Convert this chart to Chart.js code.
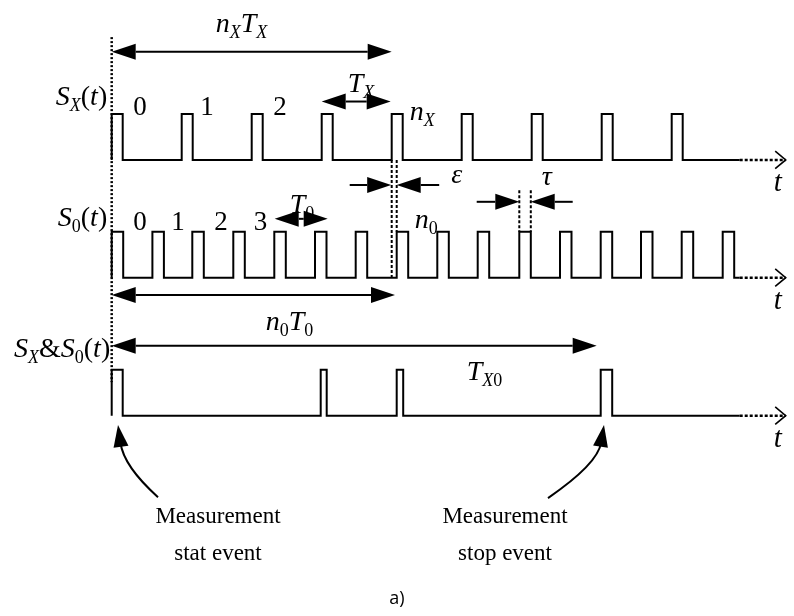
<!DOCTYPE html>
<html>
<head>
<meta charset="utf-8">
<script src="https://cdn.jsdelivr.net/npm/chart.js@4.4.1/dist/chart.umd.min.js"></script>
<style>
  html, body { margin: 0; padding: 0; background: #fff; }
  #wrap { width: 794px; height: 616px; }
</style>
</head>
<body>
<div id="wrap"><canvas id="timing" width="794" height="616"></canvas></div>
<script>
// pulse start times (time units)
const sxStarts = [0, 7, 14, 21, 28, 35, 42, 49, 56];
const sxWidths = [1.1, 1.1, 1.1, 1.1, 1.1, 1.1, 1.1, 1.1, 1.1];
const s0Starts = [0, 4.07, 8.06, 12.16, 16.26, 20.33, 24.4, 28.5, 32.56, 36.6, 40.76, 44.83, 48.9, 52.93, 57.0, 61.1];
const s0Widths = [1.15, 1.15, 1.15, 1.15, 1.15, 1.15, 1.15, 1.15, 1.15, 1.15, 1.15, 1.15, 1.15, 1.15, 1.15, 1.15];
const andStarts = [0, 20.9, 28.5, 48.9];
const andWidths = [1.1, 0.6, 0.65, 1.15];
const tSolidEnd = 62.8;
const tAxisEnd = 67.4;

// pulse counters written above the trains
const sxCountLabels = ["0", "1", "2"];
const sxCountAt = [2.83, 9.53, 16.83];
const s0CountLabels = ["0", "1", "2", "3"];
const s0CountAt = [2.83, 6.63, 10.93, 14.88];

// vertical layout (level units, one unit = pulse height)
const rowBase = [5.56, 3.0, 0];

const SERIF = '"Liberation Serif", "Times New Roman", serif';

function pulseTrain(starts, widths, base) {
  const pts = [{ x: 0, y: base }];
  starts.forEach((s, i) => {
    const w = widths[i];
    pts.push({ x: s, y: base }, { x: s, y: base + 1 }, { x: s + w, y: base + 1 }, { x: s + w, y: base });
  });
  pts.push({ x: tSolidEnd, y: base });
  return pts;
}

function line(data, extra) {
  return Object.assign({
    data: data,
    showLine: true,
    borderColor: "#000",
    borderWidth: 2,
    pointRadius: 0,
    tension: 0,
    fill: false,
    borderCapStyle: "butt",
    borderJoinStyle: "miter",
  }, extra || {});
}

const datasets = [
  line(pulseTrain(sxStarts, sxWidths, rowBase[0])),
  line(pulseTrain(s0Starts, s0Widths, rowBase[1])),
  line(pulseTrain(andStarts, andWidths, rowBase[2])),
];

// dotted tails + open chevrons on the time axes
rowBase.forEach((b) => {
  datasets.push(line([{ x: tSolidEnd, y: b }, { x: tAxisEnd, y: b }], { borderDash: [3, 2], borderWidth: 2.5 }));
  datasets.push(line([{ x: tAxisEnd - 1.05, y: b + 0.19 }, { x: tAxisEnd, y: b }, { x: tAxisEnd - 1.05, y: b - 0.19 }], { borderWidth: 1.6 }));
});

// start marker and the epsilon / tau guide lines
datasets.push(line([{ x: 0, y: 8.23 }, { x: 0, y: 0.73 }], { borderDash: [2, 2], borderWidth: 2.5 }));
datasets.push(line([{ x: sxStarts[4], y: rowBase[0] }, { x: sxStarts[4], y: rowBase[1] }], { borderDash: [3, 2] }));
datasets.push(line([{ x: s0Starts[7], y: rowBase[0] }, { x: s0Starts[7], y: rowBase[1] + 1 }], { borderDash: [3, 2] }));
datasets.push(line([{ x: s0Starts[10], y: 4.9 }, { x: s0Starts[10], y: rowBase[1] + 1 }], { borderDash: [3, 2] }));
datasets.push(line([{ x: s0Starts[10] + s0Widths[10], y: 4.9 }, { x: s0Starts[10] + s0Widths[10], y: rowBase[1] + 1 }], { borderDash: [3, 2] }));

// arrows: [t1, v1, t2, v2, double-headed]
const arrows = [
  [0, 7.91, 28, 7.91, true],       // nX TX
  [21, 6.83, 27.9, 6.83, true],    // TX
  [16.3, 4.28, 21.6, 4.28, true],  // T0
  [23.8, 5.015, 27.95, 5.015, false], // epsilon left
  [32.75, 5.015, 28.5, 5.015, false], // epsilon right
  [36.5, 4.65, 40.76, 4.65, false],   // tau left
  [46.1, 4.65, 41.9, 4.65, false],    // tau right
  [0, 2.624, 28.33, 2.624, true],  // n0 T0
  [0, 1.522, 48.5, 1.522, true],   // TX0
];

// curved pointers: start, control, tip
const pointers = [
  [4.63, -1.77, 1.2, -1.1, 0.63, -0.2],
  [43.63, -1.79, 48.6, -1.05, 49.23, -0.2],
];

// math labels: parts [text, style], t, v, align
const mathLabels = [
  [[["S", "i"], ["X", "si"], ["(", "r"], ["t", "i"], [")", "r"]], -0.45, 6.754, "right"],
  [[["S", "i"], ["0", "sr"], ["(", "r"], ["t", "i"], [")", "r"]], -0.45, 4.124, "right"],
  [[["S", "i"], ["X", "si"], ["&", "r"], ["S", "i"], ["0", "sr"], ["(", "r"], ["t", "i"], [")", "r"]], -0.15, 1.276, "right"],
  [[["n", "i"], ["X", "si"], ["T", "i"], ["X", "si"]], 10.4, 8.34, "left"],
  [[["T", "i"], ["X", "si"]], 23.6, 7.03, "left"],
  [[["n", "i"], ["X", "si"]], 29.8, 6.43, "left"],
  [[["T", "i"], ["0", "sr"]], 17.8, 4.4, "left"],
  [[["n", "i"], ["0", "sr"]], 30.3, 4.08, "left"],
  [[["\u03b5", "i"]], 34.5, 5.06, "center"],
  [[["\u03c4", "i"]], 43.5, 5.015, "center"],
  [[["n", "i"], ["0", "sr"], ["T", "i"], ["0", "sr"]], 15.4, 1.86, "left"],
  [[["T", "i"], ["X", "si"], ["0", "sr"]], 35.5, 0.776, "left"],
];

const eventLabels = [
  ["Measurement", 10.63, -2.34],
  ["stat event", 10.63, -3.13],
  ["Measurement", 39.33, -2.34],
  ["stop event", 39.33, -3.13],
];

function fontFor(style) {
  if (style === "i") return "italic 28px " + SERIF;
  if (style === "r") return "28px " + SERIF;
  if (style === "si") return "italic 18px " + SERIF;
  return "18px " + SERIF;
}

function drawParts(ctx, parts, x, y, align) {
  let total = 0;
  const ws = parts.map((p) => {
    ctx.font = fontFor(p[1]);
    const w = ctx.measureText(p[0]).width;
    total += w;
    return w;
  });
  let cx = align === "right" ? x - total : align === "center" ? x - total / 2 : x;
  parts.forEach((p, i) => {
    ctx.font = fontFor(p[1]);
    const dy = p[1].charAt(0) === "s" ? 6 : 0;
    ctx.fillText(p[0], cx, y + dy);
    cx += ws[i];
  });
}

function head(ctx, x, y, ang, len, half) {
  ctx.beginPath();
  ctx.moveTo(x, y);
  ctx.lineTo(x - len * Math.cos(ang) + half * Math.sin(ang), y - len * Math.sin(ang) - half * Math.cos(ang));
  ctx.lineTo(x - len * Math.cos(ang) - half * Math.sin(ang), y - len * Math.sin(ang) + half * Math.cos(ang));
  ctx.closePath();
  ctx.fill();
}

const annotations = {
  id: "annotations",
  afterDatasetsDraw(chart) {
    const ctx = chart.ctx;
    const X = (t) => chart.scales.x.getPixelForValue(t);
    const Y = (v) => chart.scales.y.getPixelForValue(v);
    ctx.save();
    ctx.fillStyle = "#000";
    ctx.strokeStyle = "#000";
    ctx.lineWidth = 2;
    ctx.setLineDash([]);
    const HL = 24, HW = 8;

    arrows.forEach((a) => {
      const x1 = X(a[0]), y1 = Y(a[1]), x2 = X(a[2]), y2 = Y(a[3]);
      const ang = Math.atan2(y2 - y1, x2 - x1);
      const dx = Math.cos(ang) * HL, dy = Math.sin(ang) * HL;
      ctx.beginPath();
      ctx.moveTo(a[4] ? x1 + dx : x1, a[4] ? y1 + dy : y1);
      ctx.lineTo(x2 - dx, y2 - dy);
      ctx.stroke();
      head(ctx, x2, y2, ang, HL, HW);
      if (a[4]) head(ctx, x1, y1, ang + Math.PI, HL, HW);
    });

    pointers.forEach((p) => {
      const sx = X(p[0]), sy = Y(p[1]), cx = X(p[2]), cy = Y(p[3]), tx = X(p[4]), ty = Y(p[5]);
      const ang = Math.atan2(ty - cy, tx - cx);
      ctx.beginPath();
      ctx.moveTo(sx, sy);
      ctx.quadraticCurveTo(cx, cy, tx - Math.cos(ang) * 18, ty - Math.sin(ang) * 18);
      ctx.stroke();
      head(ctx, tx, ty, ang, 22, 7.5);
    });

    ctx.textBaseline = "alphabetic";
    mathLabels.forEach((m) => drawParts(ctx, m[0], X(m[1]), Y(m[2]), m[3]));

    ctx.font = "27px " + SERIF;
    ctx.textAlign = "center";
    sxCountLabels.forEach((s, i) => ctx.fillText(s, X(sxCountAt[i]), Y(6.537)));
    s0CountLabels.forEach((s, i) => ctx.fillText(s, X(s0CountAt[i]), Y(4.037)));

    ctx.font = "italic 29px " + SERIF;
    rowBase.forEach((b) => ctx.fillText("t", X(66.6), Y(b - 0.67)));

    ctx.font = "23px " + SERIF;
    eventLabels.forEach((e) => ctx.fillText(e[0], X(e[1]), Y(e[2])));

    ctx.font = '18px "Open Sans", sans-serif';
    ctx.fillText("a)", X(28.53), Y(-4.1));
    ctx.restore();
  },
};

new Chart(document.getElementById("timing"), {
  type: "scatter",
  data: { datasets: datasets },
  options: {
    responsive: false,
    animation: false,
    layout: { padding: 0 },
    plugins: { legend: { display: false }, tooltip: { enabled: false } },
    elements: { line: { clip: false } },
    scales: {
      x: { type: "linear", display: false, min: -11.17, max: 68.23 },
      y: { type: "linear", display: false, min: -4.354, max: 9.037 },
    },
  },
  plugins: [annotations],
});
</script>
</body>
</html>
